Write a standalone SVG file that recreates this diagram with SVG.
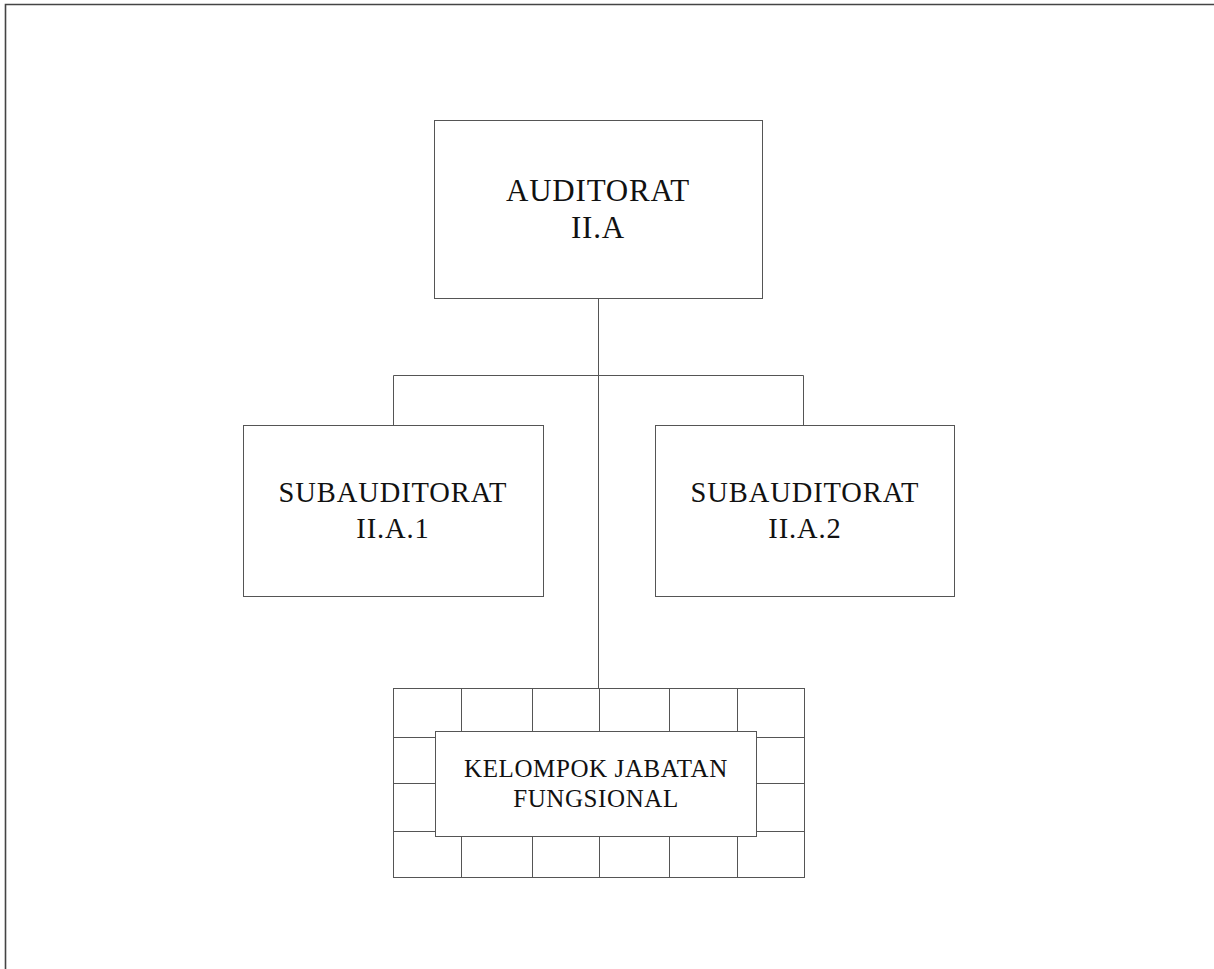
<svg xmlns="http://www.w3.org/2000/svg" width="1214" height="969" viewBox="0 0 1214 969">
<style>
.box{fill:#fff;stroke:#555;stroke-width:1}
.ln{fill:none;stroke:#555;stroke-width:1}
.t{font-family:"Liberation Serif",serif;fill:#111;text-anchor:middle}
</style>
<rect width="1214" height="969" fill="#fff"/>
<path d="M5.5,969 V4.5 H1214" fill="none" stroke="#444" stroke-width="1.6"/>
<g id="connectors">
<path class="ln" d="M598.5,299 V688"/>
<path class="ln" d="M393.5,425 V375.5 H803.5 V425"/>
</g>
<g id="auditorat">
<rect class="box" x="434.5" y="120.5" width="328" height="178"/>
<text class="t" x="598" y="201" font-size="31" letter-spacing="0.8">AUDITORAT</text>
<text class="t" x="598" y="238" font-size="31" letter-spacing="0.8">II.A</text>
</g>
<g id="sub1">
<rect class="box" x="243.5" y="425.5" width="300" height="171"/>
<text class="t" x="393" y="502" font-size="28.5" letter-spacing="0.9">SUBAUDITORAT</text>
<text class="t" x="393" y="538" font-size="28.5" letter-spacing="0.9">II.A.1</text>
</g>
<g id="sub2">
<rect class="box" x="655.5" y="425.5" width="299" height="171"/>
<text class="t" x="805" y="502" font-size="28.5" letter-spacing="0.9">SUBAUDITORAT</text>
<text class="t" x="805" y="538" font-size="28.5" letter-spacing="0.9">II.A.2</text>
</g>
<g id="kelompok">
<rect class="box" x="393.5" y="688.5" width="411" height="189"/>
<path class="ln" d="M461.5,688 V878 M532.5,688 V878 M599.5,688 V878 M669.5,688 V878 M737.5,688 V878 M393,737.5 H805 M393,783.5 H805 M393,831.5 H805"/>
<rect class="box" x="435.5" y="731.5" width="321" height="105"/>
<text class="t" x="596" y="777" font-size="25" letter-spacing="0.6">KELOMPOK JABATAN</text>
<text class="t" x="596" y="807" font-size="25" letter-spacing="0.6">FUNGSIONAL</text>
</g>
</svg>
